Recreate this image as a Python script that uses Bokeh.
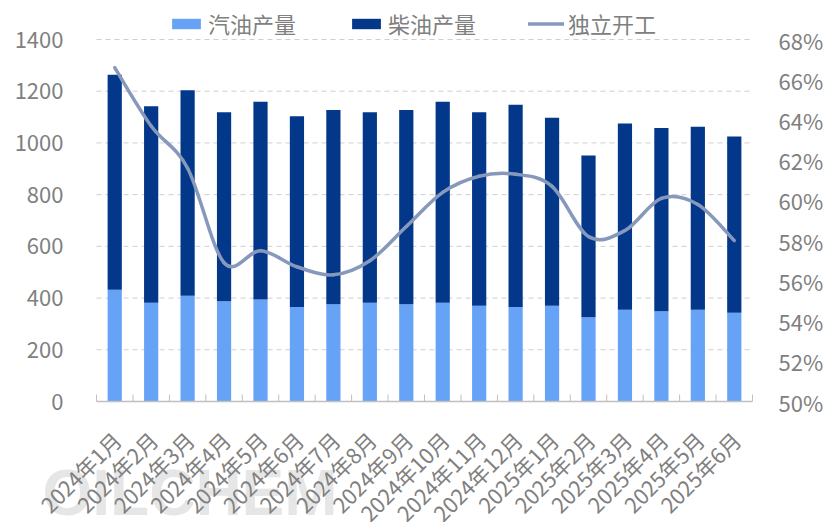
import math
from bokeh.plotting import figure
from bokeh.models import Range1d, ColumnDataSource, Legend, LegendItem
from bokeh.core.properties import value
from bokeh.embed import file_html
from bokeh.resources import INLINE

# Monthly output (10k t) and independent refinery run rate (%)
months = ["2024年1月", "2024年2月", "2024年3月", "2024年4月", "2024年5月", "2024年6月",
          "2024年7月", "2024年8月", "2024年9月", "2024年10月", "2024年11月", "2024年12月",
          "2025年1月", "2025年2月", "2025年3月", "2025年4月", "2025年5月", "2025年6月"]
gasoline = [432, 382, 409, 388, 394, 365, 376, 382, 376, 382, 370, 365, 370, 326, 355, 349, 355, 343]
diesel = [832, 760, 795, 731, 765, 738, 751, 737, 751, 777, 749, 783, 727, 625, 720, 709, 708, 682]
run_rate = [66.6, 63.7, 61.6, 56.9, 57.5, 56.7, 56.3, 57.0, 58.7, 60.4, 61.2, 61.3, 60.7,
            58.2, 58.5, 60.1, 59.8, 58.0]

left_ticks = [0, 200, 400, 600, 800, 1000, 1200, 1400]
right_ticks = [50, 52, 54, 56, 58, 60, 62, 64, 66, 68]

LIGHT = "#66A3F7"
NAVY = "#02378A"
LINE = "#8699BC"
GREY = "#808080"
AXIS = "#c0c0c0"
FONT = "Noto Sans CJK SC"

W, H = 825, 522
# plot-area margins in pixels (the whole canvas is one frame; axes are drawn as glyphs)
M_L, M_R, M_T, M_B = 96, 73, 39, 121
PLOT_W = W - M_L - M_R
PLOT_H = H - M_T - M_B

n = len(months)
xc = [i + 0.5 for i in range(n)]
xpp = n / PLOT_W                            # categories per pixel

lo, hi = left_ticks[0], left_ticks[-1]
upp = (hi - lo) / PLOT_H                    # left-axis units per pixel
rlo, rhi = right_ticks[0], right_ticks[-1]
rupp = (rhi - rlo) / PLOT_H                 # right-axis units per pixel

p = figure(width=W, height=H, output_backend="svg", toolbar_location=None,
           x_range=Range1d(-M_L * xpp, n + M_R * xpp),
           y_range=Range1d(lo - M_B * upp, hi + M_T * upp),
           x_axis_location=None, y_axis_location=None,
           min_border=0)
p.outline_line_color = None
p.background_fill_color = "white"
p.border_fill_color = "white"
p.grid.visible = False
p.extra_y_ranges = {"pct": Range1d(rlo - M_B * rupp, rhi + M_T * rupp)}

# faint watermark behind the month labels
p.text(x=[-54 * xpp], y=[lo - 91 * upp], text=["OILCHEM"],
       text_font=value("Liberation Sans"), text_font_style="bold", text_font_size="64px",
       text_color="#e6e6e6", text_baseline="alphabetic", level="underlay")

# dashed horizontal gridlines
gy = left_ticks[1:]
p.segment(x0=[0] * len(gy), y0=gy, x1=[n] * len(gy), y1=gy,
          line_color="#cfcfcf", line_dash="5 4", line_width=1)

src = ColumnDataSource(dict(x=xc, gasoline=gasoline, diesel=diesel))
bars = p.vbar_stack(["gasoline", "diesel"], x="x", width=0.39, source=src,
                    color=[LIGHT, NAVY], line_color=None)

# smoothed run-rate curve: cubic Bezier segments through each monthly point
x0s, y0s, x1s, y1s, cx0s, cy0s, cx1s, cy1s = [], [], [], [], [], [], [], []
for i in range(n - 1):
    a = max(i - 1, 0)
    d = min(i + 2, n - 1)
    x0s.append(xc[i]); y0s.append(run_rate[i])
    x1s.append(xc[i + 1]); y1s.append(run_rate[i + 1])
    cx0s.append(xc[i] + (xc[i + 1] - xc[a]) / 6)
    cy0s.append(run_rate[i] + (run_rate[i + 1] - run_rate[a]) / 6)
    cx1s.append(xc[i + 1] - (xc[d] - xc[i]) / 6)
    cy1s.append(run_rate[i + 1] - (run_rate[d] - run_rate[i]) / 6)
curve = p.bezier(x0=x0s, y0=y0s, x1=x1s, y1=y1s, cx0=cx0s, cy0=cy0s, cx1=cx1s, cy1=cy1s,
                 line_color=LINE, line_width=3.5, y_range_name="pct", line_cap="round")

# category axis: baseline, inward ticks at month boundaries, slanted month labels
p.segment(x0=[0], y0=[lo], x1=[n], y1=[lo], line_color=AXIS, line_width=1.5)
bounds = list(range(n + 1))
p.segment(x0=bounds, y0=[lo] * len(bounds), x1=bounds, y1=[lo + 7 * upp] * len(bounds),
          line_color=AXIS, line_width=1)
p.text(x=[x + 2 * xpp for x in xc], y=[lo - 34 * upp] * n, text=months, angle=math.pi / 4,
       text_align="right", text_baseline="middle", text_font=value(FONT),
       text_font_size="21.5px", text_color=GREY)

# left value axis labels
p.text(x=[-33 * xpp] * len(left_ticks), y=left_ticks, text=[str(v) for v in left_ticks],
       text_align="right", text_baseline="middle", text_font=value(FONT),
       text_font_size="22px", text_color=GREY)

# right percentage axis labels
p.text(x=[n + 26 * xpp] * len(right_ticks), y=right_ticks,
       text=[f"{v}%" for v in right_ticks], y_range_name="pct",
       text_align="left", text_baseline="middle", text_font=value(FONT),
       text_font_size="22px", text_color=GREY)

# legend across the top
legend = Legend(items=[LegendItem(label="汽油产量", renderers=[bars[0]]),
                       LegendItem(label="柴油产量", renderers=[bars[1]]),
                       LegendItem(label="独立开工", renderers=[curve])],
                orientation="horizontal", location=(168, H - 39),
                label_text_font=FONT, label_text_font_size="22px", label_text_color=GREY,
                glyph_width=36, glyph_height=13, label_standoff=4, spacing=52,
                padding=0, margin=0, border_line_color=None, background_fill_alpha=0,
                label_height=26)
p.add_layout(legend)

open("out.html", "w").write(file_html(p, INLINE))
